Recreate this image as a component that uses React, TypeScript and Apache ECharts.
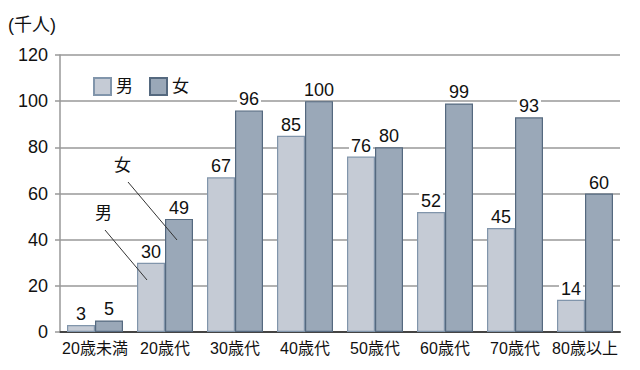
import React, { useEffect, useRef } from "react";
import * as echarts from "echarts";

const categories = ["20歳未満", "20歳代", "30歳代", "40歳代", "50歳代", "60歳代", "70歳代", "80歳以上"];
const maleValues = [3, 30, 67, 85, 76, 52, 45, 14];
const femaleValues = [5, 49, 96, 100, 80, 99, 93, 60];
const yTicks = { min: 0, max: 120, interval: 20 };
const unitLabel = "(千人)";

const FONT = "'Liberation Sans', Arial, 'Noto Sans CJK JP', sans-serif";

export default function App() {
  const ref = useRef<HTMLDivElement>(null);
  useEffect(() => {
    if (!ref.current) return;
    const chart = echarts.init(ref.current, null, { renderer: "svg" });
    const labelStyle = {
      show: true,
      position: "top" as const,
      distance: 4,
      fontSize: 18,
      color: "#111",
      fontFamily: FONT,
      backgroundColor: "#fff",
      padding: [0, 2, -2, 2],
    };
    chart.setOption({
      animation: false,
      textStyle: { fontFamily: FONT },
      grid: { left: 60, right: 20, top: 55, bottom: 38 },
      legend: {
        left: 93,
        top: 77,
        padding: 0,
        icon: "rect",
        itemWidth: 17,
        itemHeight: 17,
        itemGap: 16,
        textStyle: { fontSize: 17, color: "#111", fontFamily: FONT },
        data: ["男", "女"],
      },
      xAxis: {
        type: "category",
        data: categories,
        axisLine: { lineStyle: { color: "#444", width: 2 } },
        axisTick: { show: false },
        axisLabel: { fontSize: 16, color: "#111", margin: 8, fontFamily: FONT, interval: 0 },
      },
      yAxis: {
        type: "value",
        min: yTicks.min,
        max: yTicks.max,
        interval: yTicks.interval,
        axisLine: { show: true, lineStyle: { color: "#999", width: 1.5 } },
        axisTick: { show: true, length: 5, lineStyle: { color: "#999", width: 1.5 } },
        splitLine: { lineStyle: { color: "#999", width: 1.5 } },
        axisLabel: { fontSize: 18, color: "#111", margin: 12, fontFamily: FONT },
      },
      series: [
        {
          name: "男",
          type: "bar",
          data: maleValues,
          barWidth: 28,
          barGap: "0%",
          itemStyle: { color: "#c5cbd5", borderColor: "#8195ab", borderWidth: 1.2 },
          label: labelStyle,
        },
        {
          name: "女",
          type: "bar",
          data: femaleValues,
          barWidth: 28,
          barGap: "0%",
          itemStyle: { color: "#9aa8b8", borderColor: "#55697f", borderWidth: 1.2 },
          label: labelStyle,
        },
      ],
      graphic: [
        {
          type: "text",
          left: 8,
          top: 16,
          style: { text: unitLabel, fill: "#111", fontSize: 18, fontFamily: FONT },
        },
        {
          type: "text",
          x: 95,
          y: 205,
          style: { text: "男", fill: "#111", fontSize: 17, fontFamily: FONT, backgroundColor: "#fff" },
        },
        {
          type: "line",
          shape: { x1: 105, y1: 230, x2: 147, y2: 280 },
          style: { stroke: "#333", lineWidth: 1 },
          z: 10,
        },
        {
          type: "text",
          x: 114,
          y: 157,
          style: { text: "女", fill: "#111", fontSize: 17, fontFamily: FONT, backgroundColor: "#fff" },
        },
        {
          type: "line",
          shape: { x1: 128, y1: 182, x2: 177, y2: 240 },
          style: { stroke: "#333", lineWidth: 1 },
          z: 10,
        },
      ],
    });
    return () => chart.dispose();
  }, []);
  return (
    <div
      ref={ref}
      style={{ position: "fixed", left: 0, top: 0, width: 640, height: 370, background: "#fff" }}
    />
  );
}
